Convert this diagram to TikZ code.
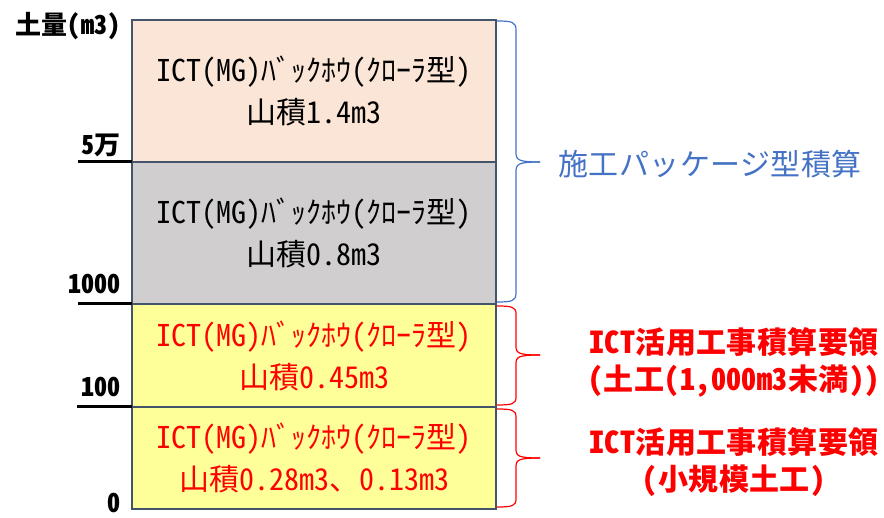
\documentclass[tikz,border=0pt]{standalone}
\usepackage{fontspec}
\setmainfont{Noto Sans CJK JP}
\newfontfamily\jpbox[RawFeature=+hwid]{Noto Sans CJK JP}
\newfontfamily\jpaxis[RawFeature=+hwid, LetterSpace=1]{Noto Sans CJK JP}
\newfontfamily\jpside[RawFeature=+hwid, LetterSpace=1.5]{Noto Sans CJK JP}
\definecolor{boxline}{HTML}{44546A}
\definecolor{peach}{HTML}{FBE5D6}
\definecolor{greyfill}{HTML}{D0CECE}
\definecolor{yellowfill}{HTML}{FFFF99}
\definecolor{pkgblue}{HTML}{4472C4}
\definecolor{ictred}{HTML}{FF0000}
\tikzset{
  volbox/.style={draw=boxline, line width=2pt, minimum width=364pt, inner sep=0pt, outer sep=0pt,
    align=center, font=\jpbox\fontsize{30}{42}\selectfont},
  axislabel/.style={anchor=east, inner sep=0pt, font=\jpaxis\bfseries\fontsize{26}{30}\selectfont},
  tickline/.style={line width=3pt, black},
  bracestyle/.style={line width=1.2pt},
  sidelabel/.style={align=center, inner sep=0pt},
}
\begin{document}
\begin{tikzpicture}[x=1pt,y=-1pt]
\useasboundingbox (0,0) rectangle (884,518);
% boxes
\node[volbox, fill=peach, minimum height=142pt] (b1) at (314,91)
  {ICT(MG)ﾊﾞｯｸﾎｳ(ｸﾛｰﾗ型)\\山積1.4m3};
\node[volbox, fill=greyfill, minimum height=142pt] (b2) at (314,233)
  {ICT(MG)ﾊﾞｯｸﾎｳ(ｸﾛｰﾗ型)\\山積0.8m3};
\node[volbox, fill=yellowfill, minimum height=103pt, text=ictred] (b3) at (314,355.5)
  {ICT(MG)ﾊﾞｯｸﾎｳ(ｸﾛｰﾗ型)\\山積0.45m3};
\node[volbox, fill=yellowfill, minimum height=102pt, text=ictred] (b4) at (314,458)
  {ICT(MG)ﾊﾞｯｸﾎｳ(ｸﾛｰﾗ型)\\山積0.28m3、0.13m3};
% ticks
\coordinate (t1) at (78,162);
\coordinate (t2) at (78,304);
\coordinate (t3) at (77,407);
\draw[tickline] (t1) -- (t1 -| b1.west);
\draw[tickline] (t2) -- (t2 -| b2.west);
\draw[tickline] (t3) -- (t3 -| b3.west);
% axis labels
\node[axislabel] (lunit) at (121,26) {土量(m3)};
\node[axislabel] (l5man) at (121,145) {5万};
\node[axislabel] (l1000) at (121,284) {1000};
\node[axislabel] (l100) at (121,387) {100};
\node[axislabel] (l0) at (121,503) {0};
% braces
\draw[bracestyle, pkgblue] (497,21) .. controls (512,21) and (516,22) .. (516,30)
  -- (516,152) .. controls (516,160) and (518,162) .. (540,162);
\draw[bracestyle, pkgblue] (497,302) .. controls (512,302) and (516,301) .. (516,293)
  -- (516,172) .. controls (516,164) and (518,162) .. (540,162);
\draw[bracestyle, ictred] (497,306) .. controls (512,306) and (516,307) .. (516,314)
  -- (516,346) .. controls (516,353) and (518,355) .. (540,355);
\draw[bracestyle, ictred] (497,405) .. controls (512,405) and (516,404) .. (516,397)
  -- (516,364) .. controls (516,357) and (518,355) .. (540,355);
\draw[bracestyle, ictred] (497,409) .. controls (512,409) and (516,410) .. (516,417)
  -- (516,449) .. controls (516,456) and (518,458) .. (540,458);
\draw[bracestyle, ictred] (497,507) .. controls (512,507) and (516,506) .. (516,499)
  -- (516,467) .. controls (516,460) and (518,458) .. (540,458);
% side labels
\node[sidelabel, text=pkgblue, font=\jpside\fontsize{30}{34}\selectfont] (pkg) at (710,164) {施工パッケージ型積算};
\node[sidelabel, text=ictred, font=\jpside\bfseries\fontsize{30}{37}\selectfont] (ict1) at (734,362)
  {ICT活用工事積算要領\\(土工(1,000m3未満))};
\node[sidelabel, text=ictred, font=\jpside\bfseries\fontsize{30}{37}\selectfont] (ict2) at (734,462)
  {ICT活用工事積算要領\\(小規模土工)};
\end{tikzpicture}
\end{document}
